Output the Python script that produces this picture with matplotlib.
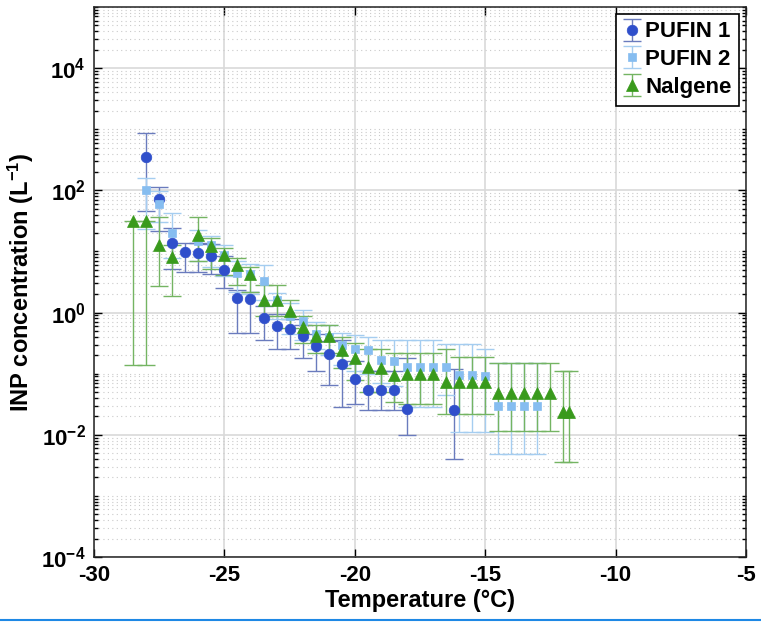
import matplotlib
matplotlib.use('Agg')
import matplotlib.pyplot as plt
from matplotlib.lines import Line2D
from matplotlib.ticker import LogLocator, FixedLocator, NullFormatter
import numpy as np

# PUFIN 1 (circles)
temp_p1 = [-28, -27.5, -27, -26.5, -26, -25.5, -25, -24.5, -24, -23.5, -23, -22.5,
           -22, -21.5, -21, -20.5, -20, -19.5, -19, -18.5, -18, -16.2]
conc_p1 = [347, 71, 13.5, 9.8, 9.3, 8.5, 5.0, 1.7, 1.66, 0.83, 0.60, 0.54,
           0.41, 0.28, 0.21, 0.145, 0.081, 0.054, 0.054, 0.054, 0.026, 0.025]
low_p1 = [46, 22, 5.2, 4.6, 4.6, 4.3, 2.5, 0.47, 0.47, 0.35, 0.25, 0.25,
          0.18, 0.11, 0.066, 0.028, 0.032, 0.025, 0.025, 0.025, 0.010, 0.004]
high_p1 = [870, 112, 24.5, 13.8, 13.8, 13.2, 8.5, 2.3, 2.2, 1.3, 0.95, 0.79,
           0.63, 0.45, 0.34, 0.35, 0.16, 0.11, 0.11, 0.11, 0.18, 0.12]

# PUFIN 2 (squares)
temp_p2 = [-28, -27.5, -27, -26, -25.5, -25, -24.5, -24, -23.5, -23, -22.5, -22,
           -21.5, -21, -20.5, -20, -19.5, -19, -18.5, -18, -17.5, -17, -16.5, -16,
           -15.5, -15, -14.5, -14, -13.5, -13]
conc_p2 = [100, 59, 20.4, 15.1, 12.6, 8.9, 4.4, 4.2, 3.3, 1.62, 0.89, 0.74,
           0.45, 0.40, 0.29, 0.25, 0.245, 0.166, 0.162, 0.129, 0.129, 0.129, 0.129, 0.095,
           0.095, 0.093, 0.0295, 0.0295, 0.0295, 0.0295]
low_p2 = [23, 30, 7.9, 7.1, 5.6, 4.0, 2.2, 2.0, 1.6, 0.79, 0.45, 0.35,
          0.25, 0.20, 0.14, 0.11, 0.10, 0.071, 0.063, 0.029, 0.029, 0.029, 0.045, 0.011,
          0.011, 0.011, 0.0049, 0.0049, 0.0049, 0.0049]
high_p2 = [162, 98, 43, 22.4, 17.8, 12.6, 7.1, 6.3, 6.0, 2.1, 1.41, 1.12,
           0.71, 0.63, 0.47, 0.43, 0.40, 0.35, 0.35, 0.35, 0.35, 0.35, 0.31, 0.31,
           0.31, 0.25, 0.148, 0.148, 0.148, 0.148]

# Nalgene (triangles)
temp_ng = [-28.5, -28, -27.5, -27, -26, -25.5, -25, -24.5, -24, -23.5, -23, -22.5,
           -22, -21.5, -21, -20.5, -20, -19.5, -19, -18.5, -18, -17.5, -17, -16.5,
           -16, -15.5, -15, -14.5, -14, -13.5, -13, -12.5, -12, -11.8]
conc_ng = [32, 32, 12.9, 8.1, 18.6, 12.3, 8.9, 5.9, 4.2, 1.62, 1.62, 1.05,
           0.59, 0.42, 0.42, 0.24, 0.18, 0.129, 0.126, 0.095, 0.1, 0.1, 0.1, 0.072,
           0.072, 0.072, 0.072, 0.048, 0.048, 0.048, 0.048, 0.048, 0.0234, 0.0234]
low_ng = [0.138, 0.138, 2.75, 1.9, 6.9, 5.2, 4.1, 2.8, 2.2, 0.89, 0.89, 0.56,
          0.32, 0.22, 0.22, 0.126, 0.079, 0.05, 0.05, 0.035, 0.032, 0.032, 0.032, 0.022,
          0.022, 0.022, 0.022, 0.0115, 0.0115, 0.0115, 0.0115, 0.0115, 0.0036, 0.0036]
high_ng = [32, 32, 37, 12.6, 37, 16.6, 11.2, 7.9, 5.6, 2.8, 2.8, 1.58,
           0.89, 0.63, 0.63, 0.4, 0.32, 0.25, 0.25, 0.22, 0.22, 0.22, 0.22, 0.25,
           0.19, 0.19, 0.19, 0.148, 0.148, 0.148, 0.148, 0.148, 0.112, 0.112]

labels = ['PUFIN 1', 'PUFIN 2', 'Nalgene']

plt.rcParams['font.family'] = ['Liberation Sans', 'DejaVu Sans']
plt.rcParams['font.weight'] = 'bold'
plt.rcParams['axes.unicode_minus'] = False
plt.rcParams['mathtext.fontset'] = 'custom'
plt.rcParams['mathtext.rm'] = 'Liberation Sans:bold'
plt.rcParams['mathtext.it'] = 'Liberation Sans:bold'
plt.rcParams['mathtext.bf'] = 'Liberation Sans:bold'

fig = plt.figure(figsize=(7.61, 6.25), dpi=100)
ax = fig.add_axes([0.1235, 0.1088, 0.8568, 0.88])


def yerr(c, lo, hi):
    c, lo, hi = np.array(c), np.array(lo), np.array(hi)
    return [c - lo, hi - c]


series = [
    (temp_p1, conc_p1, low_p1, high_p1, 'o', '#2f4fcb', '#6a7bbd', 7.6),
    (temp_p2, conc_p2, low_p2, high_p2, 's', '#86bdf0', '#a5cdf0', 5.8),
    (temp_ng, conc_ng, low_ng, high_ng, '^', '#399a1c', '#74b462', 8.8),
]
for (t, c, lo, hi, mk, col, ecol, ms), lab in zip(series, labels):
    _, caps, _ = ax.errorbar(t, c, yerr=yerr(c, lo, hi), fmt=mk, color=col,
                             ecolor=ecol, markersize=ms, markeredgecolor=col,
                             markeredgewidth=0.5, elinewidth=1.0,
                             capsize=6.5, label=lab)
    for cap in caps:
        cap.set_markeredgewidth(1.0)
        cap.set_color(ecol)

ax.set_yscale('log')
ax.set_xlim(-30, -5)
ax.set_ylim(1e-4, 1e5)
ax.set_xticks([-30, -25, -20, -15, -10, -5])
ax.yaxis.set_major_locator(FixedLocator([1e-4, 1e-2, 1e0, 1e2, 1e4]))
ax.yaxis.set_minor_locator(LogLocator(base=10, subs=np.arange(1, 10), numticks=50))
ax.yaxis.set_minor_formatter(NullFormatter())

ax.grid(True, which='major', color='#d9d9d9', linewidth=1.2, linestyle='-')
ax.grid(True, which='minor', axis='y', color='#cacaca', linewidth=0.8, linestyle=(0, (1, 3)))
ax.set_axisbelow(True)

ax.tick_params(which='both', direction='in', top=True, right=True, width=1)
ax.tick_params(which='major', length=6, labelsize=16, pad=6)
ax.tick_params(which='minor', length=3)
for s in ax.spines.values():
    s.set_linewidth(1.1)
    s.set_color('#222222')

ax.set_xlabel('Temperature (°C)', fontsize=17, fontweight='bold', labelpad=2)
ax.set_ylabel(r'INP concentration (L$^{-1}$)', fontsize=17, fontweight='bold', labelpad=4)

leg = ax.legend(loc='upper right', fontsize=16, frameon=True, fancybox=False,
                edgecolor='black', framealpha=1, handlelength=0.7,
                handletextpad=0.25, borderpad=0.35, labelspacing=0.3,
                borderaxespad=0.3)
leg.get_frame().set_linewidth(1.2)
for txt in leg.get_texts():
    txt.set_fontweight('bold')

# thin blue rule at the bottom of the screenshot
fig.add_artist(Line2D([0, 1], [0.008, 0.008], transform=fig.transFigure,
                      color='#1e88e5', linewidth=1.5))

plt.savefig('out.png', dpi=100)
